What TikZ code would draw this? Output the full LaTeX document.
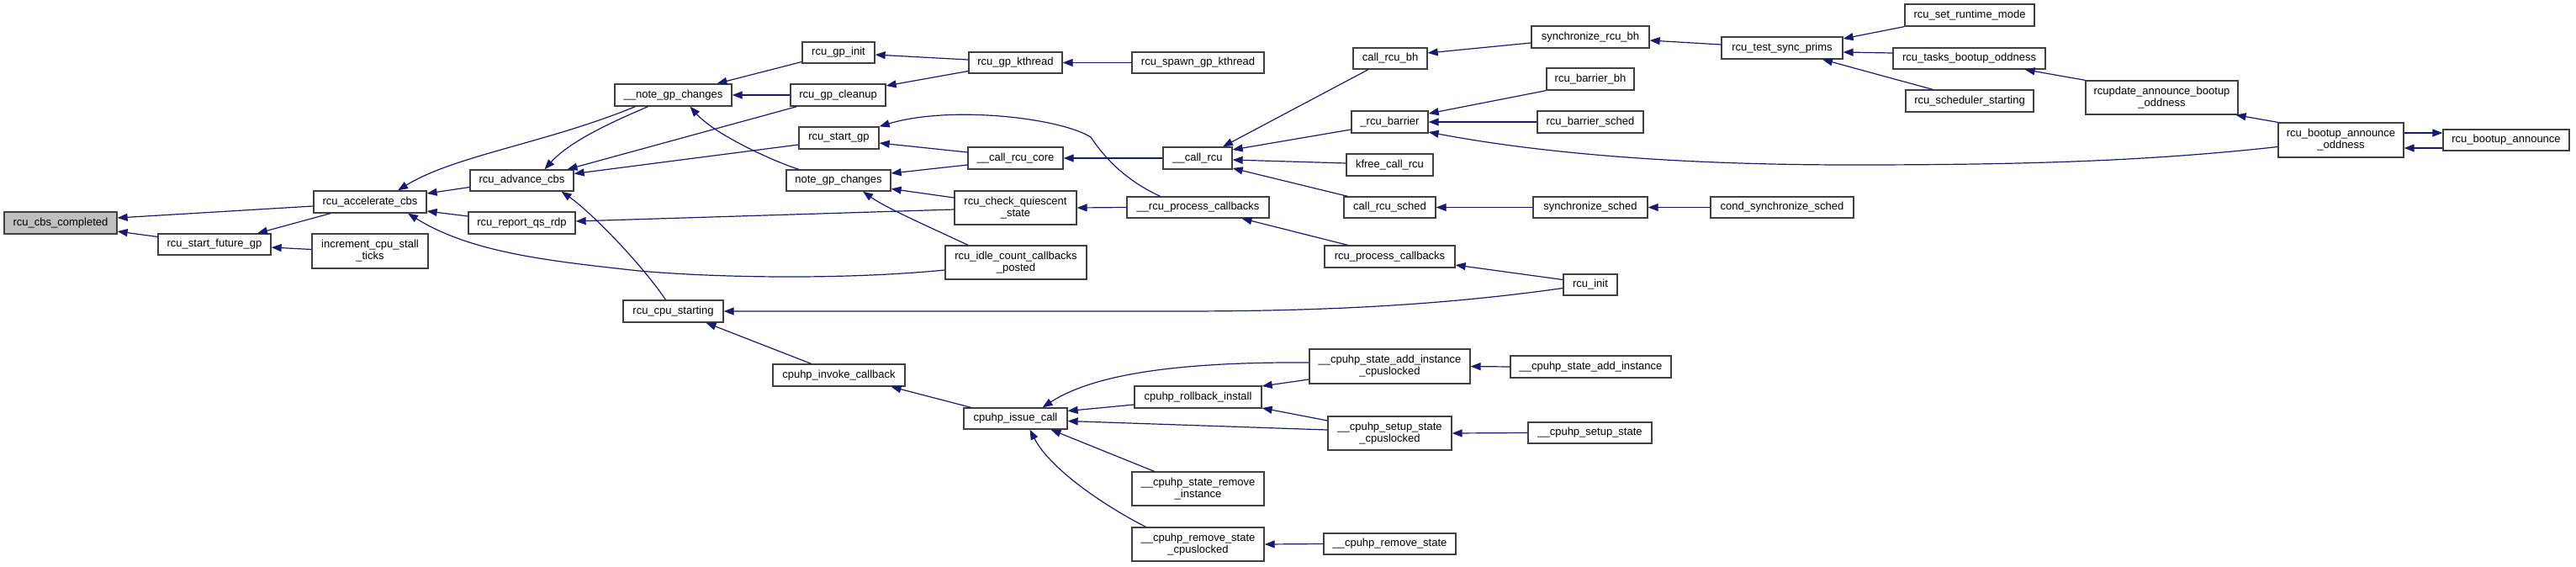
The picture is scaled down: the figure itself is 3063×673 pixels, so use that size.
\documentclass[tikz,border=0pt]{standalone}
\usepackage{fontspec}
\setmainfont{Liberation Sans}
\usetikzlibrary{arrows.meta,calc}
\definecolor{edgec}{HTML}{191970}
\definecolor{bordc}{HTML}{404040}
\definecolor{rootc}{HTML}{BFBFBF}
\begin{document}
\begin{tikzpicture}[x=1pt,y=-1pt,
  box/.style={draw=bordc,line width=1.3pt,fill=white,inner sep=0pt,align=center,font=\fontsize{13}{14}\selectfont},
  wh/.style n args={2}{minimum width=#1pt,minimum height=#2pt},
  edg/.style={draw=edgec,line width=1.2pt,-{Triangle[length=12pt,width=9pt]}}]
\useasboundingbox (0,0) rectangle (3063,673);
\fill[white] (0,0) rectangle (3063,673);
% nodes
\node[box,wh={134}{26},fill=rootc] (root) at (72,265) {rcu\_cbs\_completed};
\node[box,wh={134}{25}] (sfg) at (255,290.5) {rcu\_start\_future\_gp};
\node[box,wh={134}{26}] (acc) at (440,240) {rcu\_accelerate\_cbs};
\node[box,wh={138}{41}] (inc) at (440,298.5) {increment\_cpu\_stall\\\_ticks};
\node[box,wh={123}{25}] (adv) at (620.5,214.5) {rcu\_advance\_cbs};
\node[box,wh={127}{26}] (rqs) at (620.5,265) {rcu\_report\_qs\_rdp};
\node[box,wh={139}{26}] (nnote) at (800.5,113) {\_\_note\_gp\_changes};
\node[box,wh={119}{26}] (cpust) at (800.5,370) {rcu\_cpu\_starting};
\node[box,wh={86}{25}] (gpinit) at (997,62.5) {rcu\_gp\_init};
\node[box,wh={113}{26}] (gpclean) at (996.5,113) {rcu\_gp\_cleanup};
\node[box,wh={95}{26}] (startgp) at (997.5,164) {rcu\_start\_gp};
\node[box,wh={124}{25}] (note) at (997,214.5) {note\_gp\_changes};
\node[box,wh={157}{26}] (invoke) at (997.5,446) {cpuhp\_invoke\_callback};
\node[box,wh={111}{25}] (kthr) at (1207.5,74.5) {rcu\_gp\_kthread};
\node[box,wh={113}{26}] (crc) at (1207.5,188) {\_\_call\_rcu\_core};
\node[box,wh={145}{40}] (chk) at (1207.5,247) {rcu\_check\_quiescent\\\_state};
\node[box,wh={168}{40}] (idle) at (1208,312) {rcu\_idle\_count\_callbacks\\\_posted};
\node[box,wh={123}{25}] (issue) at (1207.5,497.5) {cpuhp\_issue\_call};
\node[box,wh={157}{25}] (spawn) at (1424.5,74.5) {rcu\_spawn\_gp\_kthread};
\node[box,wh={82}{26}] (callrcu) at (1424,188) {\_\_call\_rcu};
\node[box,wh={169}{25}] (rpcb) at (1424.5,246.5) {\_\_rcu\_process\_callbacks};
\node[box,wh={151}{26}] (rollback) at (1424.5,472) {cpuhp\_rollback\_install};
\node[box,wh={157}{40}] (srminst) at (1424.5,581) {\_\_cpuhp\_state\_remove\\\_instance};
\node[box,wh={157}{40}] (rmsc) at (1424.5,647) {\_\_cpuhp\_remove\_state\\\_cpuslocked};
\node[box,wh={88}{25}] (crbh) at (1653,69.5) {call\_rcu\_bh};
\node[box,wh={91}{26}] (rbar) at (1652.5,145) {\_rcu\_barrier};
\node[box,wh={103}{26}] (kfree) at (1652.5,196) {kfree\_call\_rcu};
\node[box,wh={109}{25}] (crs) at (1652.5,246.5) {call\_rcu\_sched};
\node[box,wh={155}{26}] (rpc) at (1652.5,305) {rcu\_process\_callbacks};
\node[box,wh={191}{41}] (sainstc) at (1652.5,435.5) {\_\_cpuhp\_state\_add\_instance\\\_cpuslocked};
\node[box,wh={147}{40}] (ssc) at (1652.5,515) {\_\_cpuhp\_setup\_state\\\_cpuslocked};
\node[box,wh={157}{25}] (rmst) at (1652.5,646.5) {\_\_cpuhp\_remove\_state};
\node[box,wh={140}{26}] (srbh) at (1891,44) {synchronize\_rcu\_bh};
\node[box,wh={104}{26}] (rbbh) at (1891,94) {rcu\_barrier\_bh};
\node[box,wh={126}{26}] (rbs) at (1891,145) {rcu\_barrier\_sched};
\node[box,wh={136}{25}] (ss) at (1891,246.5) {synchronize\_sched};
\node[box,wh={64}{25}] (init) at (1891,338.5) {rcu\_init};
\node[box,wh={191}{26}] (sainst) at (1891.5,436) {\_\_cpuhp\_state\_add\_instance};
\node[box,wh={147}{25}] (ssetup) at (1890.5,514.5) {\_\_cpuhp\_setup\_state};
\node[box,wh={144}{26}] (tsp) at (2119,57) {rcu\_test\_sync\_prims};
\node[box,wh={170}{25}] (css) at (2119,246.5) {cond\_synchronize\_sched};
\node[box,wh={154}{26}] (srm) at (2342,18) {rcu\_set\_runtime\_mode};
\node[box,wh={181}{25}] (tbo) at (2341.5,69.5) {rcu\_tasks\_bootup\_oddness};
\node[box,wh={152}{26}] (sst) at (2342,120) {rcu\_scheduler\_starting};
\node[box,wh={181}{40}] (rabo) at (2570.5,116) {rcupdate\_announce\_bootup\\\_oddness};
\node[box,wh={149}{41}] (rbao) at (2783.5,166.5) {rcu\_bootup\_announce\\\_oddness};
\node[box,wh={150}{25}] (rba) at (2980,166.5) {rcu\_bootup\_announce};
% edges
\draw[edg] ($(acc.west)+(0,5)$) -- ($(root.east)+(0,-6)$);
\draw[edg] ($(sfg.west)+(0,-9)$) -- ($(root.east)+(0,10)$);
\draw[edg] ($(acc.south)+(-47,0)$) -- ($(sfg.north)+(51,0)$);
\draw[edg] ($(inc.west)+(0,-2)$) -- ($(sfg.east)+(0,3.5)$);
\draw[edg] ($(adv.west)+(0,8)$) -- ($(acc.east)+(0,-10)$);
\draw[edg] ($(rqs.west)+(0,-8)$) -- ($(acc.east)+(0,11)$);
\draw[edg] ($(nnote.south)+(-45,0)$) .. controls (650,170) and (540,185) .. ($(acc.north)+(33,0)$);
\draw[edg] ($(idle.west)+(0,9)$) .. controls (1000,333) and (850,330) .. (760,322) .. controls (650,310) and (560,300) .. ($(acc.south)+(45,0)$);
\draw[edg] ($(nnote.south)+(-30,0)$) .. controls (740,140) and (680,165) .. ($(adv.north)+(27,0)$);
\draw[edg] ($(gpclean.south)+(-49,0)$) -- ($(adv.north)+(54,0)$);
\draw[edg] ($(startgp.west)+(0,8)$) -- ($(adv.east)+(0,-8)$);
\draw[edg] ($(cpust.north)+(-9,0)$) .. controls (760,310) and (700,250) .. ($(adv.south)+(47,0)$);
\draw[edg] ($(note.north)+(-47,0)$) .. controls (920,192) and (850,160) .. ($(nnote.south)+(20,0)$);
\draw[edg] ($(gpinit.west)+(0,11)$) -- ($(nnote.north)+(52,0)$);
\draw[edg] (gpclean.west) -- (nnote.east);
\draw[edg] ($(kthr.west)+(0,-3.5)$) -- ($(gpinit.east)+(0,2.5)$);
\draw[edg] ($(kthr.west)+(0,10)$) -- ($(gpclean.east)+(0,-11)$);
\draw[edg] (spawn.west) -- (kthr.east);
\draw[edg] ($(crc.west)+(0,-7)$) -- ($(startgp.east)+(0,6)$);
\draw[edg] ($(rpcb.north)+(-45,0)$) .. controls (1340,215) and (1315,190) .. (1297,163) .. controls (1260,140) and (1130,125) .. (startgp.north east);
\draw[edg] ($(crc.west)+(0,8)$) -- ($(note.east)+(0,-8.5)$);
\draw[edg] ($(chk.west)+(0,-12)$) -- ($(note.east)+(0,10)$);
\draw[edg] ($(idle.north)+(-57,0)$) .. controls (1110,272) and (1055,248) .. ($(note.south)+(29,0)$);
\draw[edg] (callrcu.west) -- (crc.east);
\draw[edg] (rpcb.west) -- (chk.east);
\draw[edg] ($(chk.west)+(0,2)$) -- ($(rqs.east)+(0,-2)$);
\draw[edg] ($(crbh.south)+(-26,0)$) -- ($(callrcu.north)+(30,0)$);
\draw[edg] ($(rbar.west)+(0,9)$) -- ($(callrcu.east)+(0,-10)$);
\draw[edg] ($(kfree.west)+(0,-2)$) -- ($(callrcu.east)+(0,2)$);
\draw[edg] ($(crs.north)+(-50,0)$) -- ($(callrcu.east)+(0,12)$);
\draw[edg] ($(rpc.north)+(-50,0)$) -- ($(rpcb.south)+(52,0)$);
\draw[edg] ($(srbh.west)+(0,7)$) -- ($(crbh.east)+(0,-6.5)$);
\draw[edg] ($(tsp.west)+(0,-4)$) -- ($(srbh.east)+(0,4)$);
\draw[edg] (rbbh.south west) -- ($(rbar.east)+(0,-10)$);
\draw[edg] (rbs.west) -- (rbar.east);
\draw[edg] ($(rbao.west)+(0,8)$) .. controls (2550,192) and (2400,196) .. (2200,196) .. controls (1980,196) and (1820,180) .. ($(rbar.east)+(0,12)$);
\draw[edg] (ss.west) -- (crs.east);
\draw[edg] (css.west) -- (ss.east);
\draw[edg] ($(init.west)+(0,-6)$) -- ($(rpc.east)+(0,10)$);
\draw[edg] ($(init.west)+(0,4)$) .. controls (1700,365) and (1550,370) .. (1400,370) -- (cpust.east);
\draw[edg] (srm.south west) -- ($(tsp.east)+(0,-11)$);
\draw[edg] ($(tbo.west)+(0,-6.5)$) -- ($(tsp.east)+(0,5)$);
\draw[edg] ($(sst.north)+(-44,0)$) -- ($(tsp.south)+(48,0)$);
\draw[edg] (rabo.north west) -- ($(tbo.south)+(66,0)$);
\draw[edg] (rbao.north west) -- ($(rabo.south)+(88,0)$);
\draw[edg] ($(rbao.east)+(0,-8.5)$) -- ($(rba.west)+(0,-8.5)$);
\draw[edg] ($(rba.west)+(0,9.5)$) -- ($(rbao.east)+(0,9.5)$);
\draw[edg] ($(invoke.north)+(-33,0)$) -- ($(cpust.south)+(39,0)$);
\draw[edg] ($(issue.north)+(-53,0)$) -- ($(invoke.south)+(62,0)$);
\draw[edg] ($(sainstc.west)+(0,-4.5)$) .. controls (1400,430) and (1300,445) .. ($(issue.north)+(32,0)$);
\draw[edg] ($(rollback.west)+(0,9)$) -- ($(issue.east)+(0,-9)$);
\draw[edg] ($(ssc.west)+(0,-4)$) -- ($(issue.east)+(0,3)$);
\draw[edg] ($(srminst.north)+(-52,0)$) -- ($(issue.south)+(42,0)$);
\draw[edg] ($(rmsc.north)+(-62,0)$) .. controls (1320,605) and (1250,560) .. ($(issue.south)+(17,0)$);
\draw[edg] ($(sainstc.west)+(0,15.5)$) -- ($(rollback.east)+(0,-13)$);
\draw[edg] ($(ssc.west)+(0,-15)$) -- ($(rollback.east)+(0,13)$);
\draw[edg] (sainst.west) -- (sainstc.east);
\draw[edg] (ssetup.west) -- (ssc.east);
\draw[edg] (rmst.west) -- (rmsc.east);
\end{tikzpicture}
\end{document}
